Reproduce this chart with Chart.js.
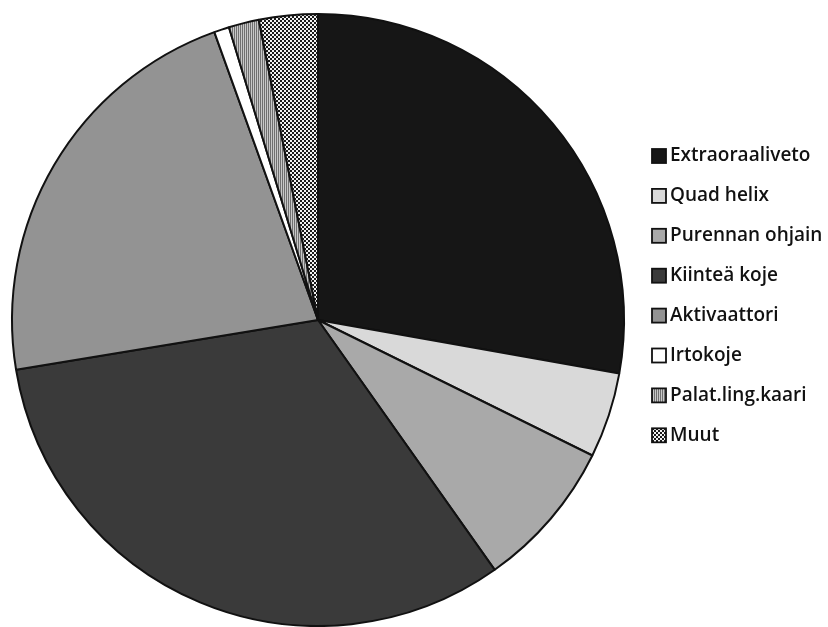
<!DOCTYPE html>
<html>
<head>
<meta charset="utf-8">
<script src="https://cdn.jsdelivr.net/npm/chart.js@4"></script>
<style>
  html, body { margin: 0; padding: 0; background: #fff; }
  #wrap { width: 828px; height: 627px; }
</style>
</head>
<body>
<div id="wrap"><canvas id="pie" width="828" height="627"></canvas></div>
<script>
// =====================
// DATA (percent)
// =====================
const labels = ['Extraoraaliveto', 'Quad helix', 'Purennan ohjain', 'Kiinteä koje',
                'Aktivaattori', 'Irtokoje', 'Palat.ling.kaari', 'Muut'];
const shares = [27.8, 4.5, 7.9, 32.2, 22.1, 0.8, 1.6, 3.1];

// =====================
// PATTERNS
// =====================
function stripes() {
  const c = document.createElement('canvas');
  c.width = 4; c.height = 4;
  const g = c.getContext('2d');
  g.fillStyle = '#c8c8c8'; g.fillRect(0, 0, 4, 4);
  g.fillStyle = '#707070'; g.fillRect(0, 0, 1, 4); g.fillRect(2, 0, 1, 4);
  return g.createPattern(c, 'repeat');
}

function checker() {
  const c = document.createElement('canvas');
  c.width = 4; c.height = 4;
  const g = c.getContext('2d');
  g.fillStyle = '#f2f2f2'; g.fillRect(0, 0, 4, 4);
  g.fillStyle = '#1a1a1a'; g.fillRect(0, 0, 2, 2); g.fillRect(2, 2, 2, 2);
  return g.createPattern(c, 'repeat');
}

const colors = ['#161616', '#d9d9d9', '#a9a9a9', '#3a3a3a',
                '#939393', '#ffffff', stripes(), checker()];

// =====================
// LEGEND (drawn on the canvas)
// =====================
const sideLegend = {
  id: 'sideLegend',
  afterDraw(chart) {
    const ctx = chart.ctx;
    const ds = chart.data.datasets[0];
    ctx.save();
    ctx.font = '600 19px "Open Sans", sans-serif';
    ctx.textBaseline = 'middle';
    chart.data.labels.forEach((lab, i) => {
      const y = 156 + i * 39.9;
      ctx.fillStyle = ds.backgroundColor[i];
      ctx.fillRect(652, y - 7, 14, 14);
      ctx.strokeStyle = '#111';
      ctx.lineWidth = 1.8;
      ctx.strokeRect(652, y - 7, 14, 14);
      ctx.fillStyle = '#111';
      ctx.fillText(lab, 670, y);
    });
    ctx.restore();
  }
};

new Chart(document.getElementById('pie'), {
  type: 'pie',
  data: {
    labels,
    datasets: [{
      data: shares,
      backgroundColor: colors,
      borderColor: '#111',
      borderWidth: 2
    }]
  },
  options: {
    responsive: false,
    animation: false,
    layout: { padding: { top: 13, right: 192, bottom: 0, left: 0 } },
    plugins: {
      legend: { display: false },
      tooltip: { enabled: false }
    }
  },
  plugins: [sideLegend]
});
</script>
</body>
</html>
